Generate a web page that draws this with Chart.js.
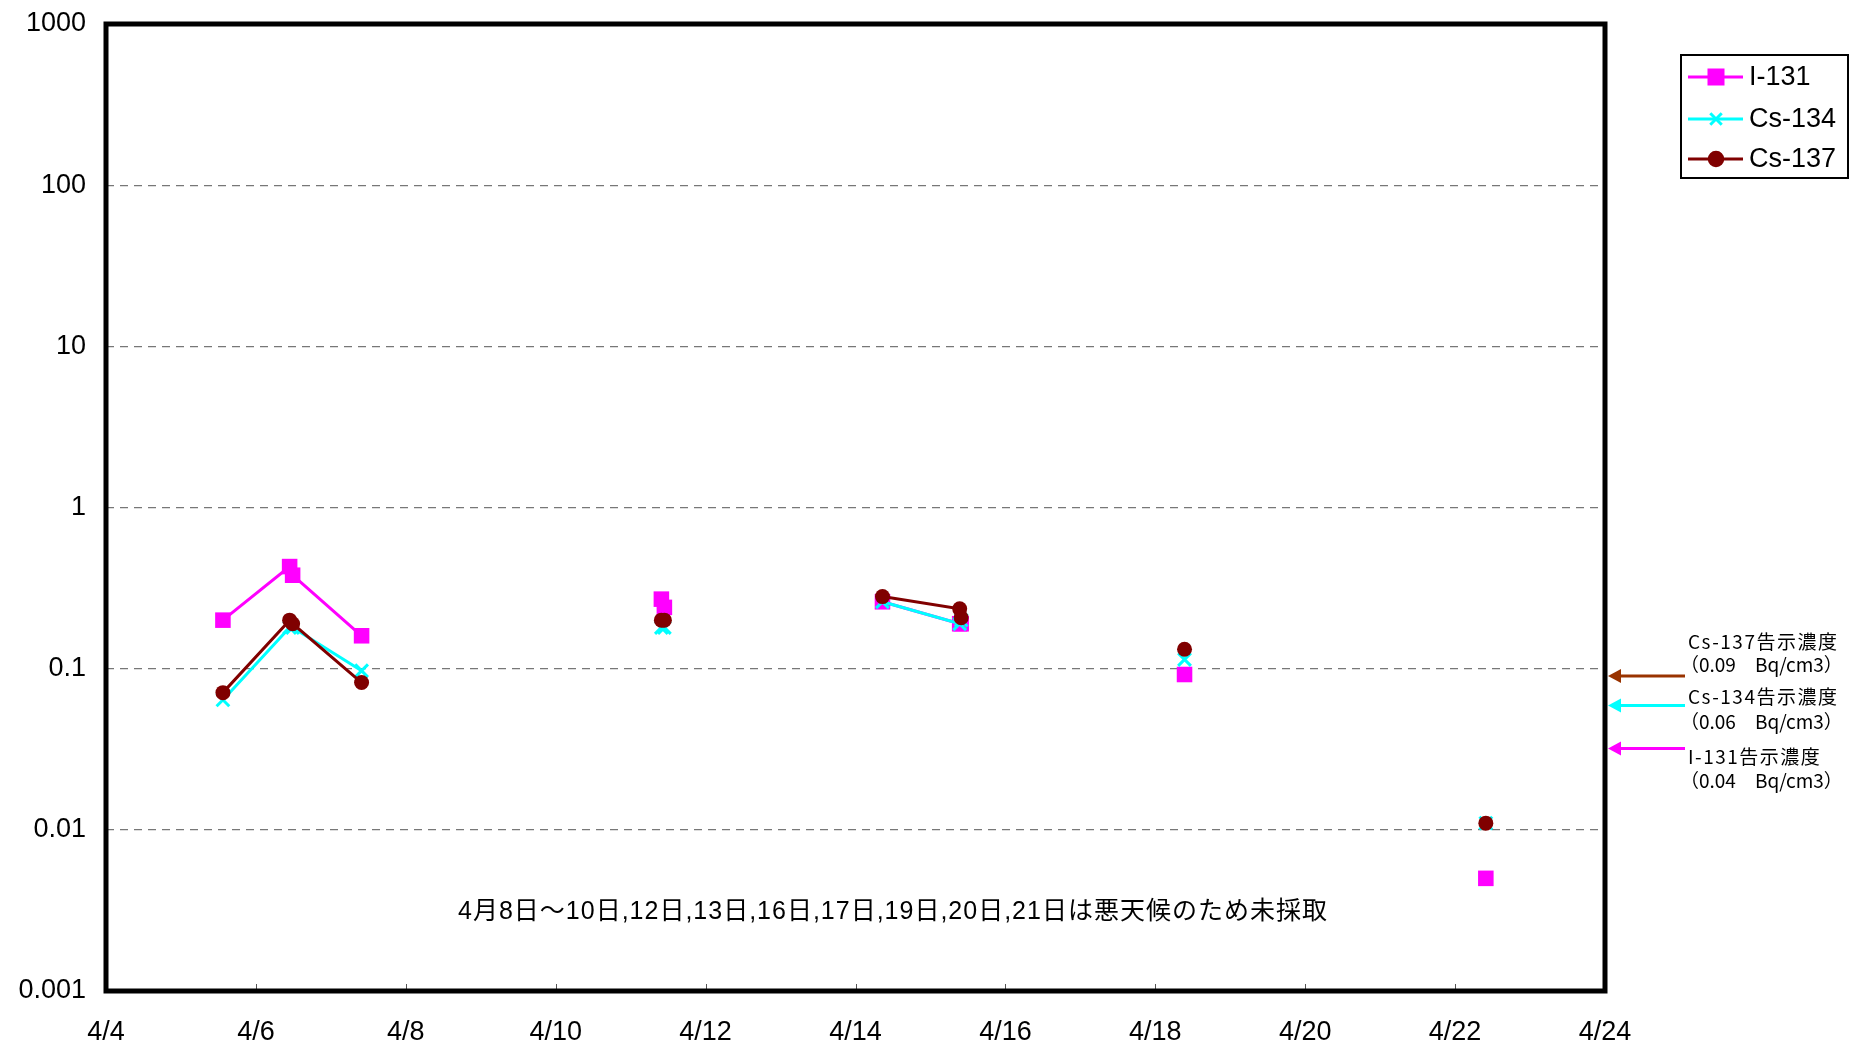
<!DOCTYPE html>
<html lang="ja">
<head>
<meta charset="UTF-8">
<title>I-131 Cs-134 Cs-137</title>
<script src="https://cdn.jsdelivr.net/npm/chart.js@4.4.1/dist/chart.umd.min.js"></script>
<style>
  body { margin: 0; background: #fff; }
  canvas { display: block; }
</style>
</head>
<body>
<canvas id="chart" width="1850" height="1047"></canvas>
<script>
// sampling times (day of April, decimal)
var sampleDays = [5.56, 6.45, 6.49, 7.41, 11.41, 11.45, 14.36, 15.39, 15.41, 18.39, 22.41];
var i131 = [0.20, 0.43, 0.38, 0.16, 0.27, 0.24, 0.26, 0.19, 0.19, 0.092, 0.005];
var cs134 = [0.064, 0.18, 0.18, 0.097, 0.18, 0.18, 0.26, 0.19, 0.20, 0.114, 0.011];
var cs137 = [0.071, 0.20, 0.19, 0.082, 0.20, 0.20, 0.28, 0.235, 0.207, 0.132, 0.011];

var seriesNames = ['I-131', 'Cs-134', 'Cs-137'];
var xTicks = [4, 6, 8, 10, 12, 14, 16, 18, 20, 22, 24];
var yTicks = [0.001, 0.01, 0.1, 1, 10, 100, 1000];

// notification limits (drawn as arrows on the right)
var limitNames = ['Cs-137告示濃度', 'Cs-134告示濃度', 'I-131告示濃度'];
var limitTexts = ['（0.09　Bq/cm3）', '（0.06　Bq/cm3）', '（0.04　Bq/cm3）'];
var limitValues = [0.09, 0.059, 0.032];

var note = '4月8日～10日,12日,13日,16日,17日,19日,20日,21日は悪天候のため未採取';

var FONT = '"Liberation Sans", Arial, "Noto Sans CJK JP", sans-serif';
var JFONT = '"Noto Sans CJK JP", sans-serif';

function pts(vals) {
  return sampleDays.map(function (d, i) { return { x: d, y: vals[i] }; });
}

// no line across days without sampling
function gapColor(color) {
  return function (c) {
    return (c.p1.parsed.x - c.p0.parsed.x > 1.5) ? 'rgba(0,0,0,0)' : color;
  };
}

var styles = [
  { color: '#ff00ff', point: 'rect', radius: 11, width: 3, order: 3 },
  { color: '#00ffff', point: 'crossRot', radius: 9, width: 3, order: 2 },
  { color: '#800000', point: 'circle', radius: 7.5, width: 3, order: 1 }
];
var series = [i131, cs134, cs137];
var limitColors = ['#993300', '#00ffff', '#ff00ff'];
var limitOffsets = [[-34, -11], [-9, 16], [8, 32]];

var decorations = {
  id: 'decorations',
  afterDatasetsDraw: function (chart) {
    var ctx = chart.ctx, a = chart.chartArea;
    var xs = chart.scales.x, ys = chart.scales.y;
    ctx.save();

    // small inward ticks on x axis
    ctx.strokeStyle = '#555';
    ctx.lineWidth = 1;
    xTicks.forEach(function (v) {
      var px = Math.round(xs.getPixelForValue(v)) + 0.5;
      ctx.beginPath();
      ctx.moveTo(px, a.bottom);
      ctx.lineTo(px, a.bottom - 7);
      ctx.stroke();
    });

    // frame
    ctx.strokeStyle = '#000';
    ctx.lineWidth = 5;
    ctx.strokeRect(a.left, a.top, a.right - a.left, a.bottom - a.top);

    // note
    ctx.fillStyle = '#000';
    ctx.font = '25px ' + FONT;
    ctx.letterSpacing = '1px';
    ctx.textAlign = 'center';
    ctx.textBaseline = 'middle';
    ctx.fillText(note, xs.getPixelForValue(14.5), ys.getPixelForValue(0.0031));

    // limit arrows
    limitValues.forEach(function (v, i) {
      var y = ys.getPixelForValue(v);
      var x0 = a.right + 3, x1 = a.right + 80;
      ctx.strokeStyle = limitColors[i];
      ctx.fillStyle = limitColors[i];
      ctx.lineWidth = 3;
      ctx.beginPath();
      ctx.moveTo(x0 + 10, y);
      ctx.lineTo(x1, y);
      ctx.stroke();
      ctx.beginPath();
      ctx.moveTo(x0, y);
      ctx.lineTo(x0 + 13, y - 7);
      ctx.lineTo(x0 + 13, y + 7);
      ctx.closePath();
      ctx.fill();

      ctx.fillStyle = '#000';
      ctx.font = '19px ' + JFONT;
      ctx.textAlign = 'left';
      ctx.textBaseline = 'middle';
      ctx.letterSpacing = '1.5px';
      ctx.fillText(limitNames[i], x1 + 3, y + limitOffsets[i][0]);
      ctx.letterSpacing = '0px';
      ctx.fillText(limitTexts[i], x1 - 5, y + limitOffsets[i][1]);
    });

    // legend
    ctx.strokeStyle = '#000';
    ctx.lineWidth = 2;
    ctx.strokeRect(1681, 55, 167, 123);
    var rows = [77, 119, 159];
    seriesNames.forEach(function (name, i) {
      var s = styles[i], y = rows[i];
      ctx.strokeStyle = s.color;
      ctx.lineWidth = 3;
      ctx.beginPath();
      ctx.moveTo(1688, y);
      ctx.lineTo(1743, y);
      ctx.stroke();
      ctx.fillStyle = s.color;
      Chart.helpers.drawPoint(ctx, {
        pointStyle: s.point, radius: s.radius * 0.9, borderWidth: 3, rotation: 0
      }, 1716, y);
      if (s.point !== 'crossRot') ctx.fill();
      ctx.fillStyle = '#000';
      ctx.font = '27px ' + FONT;
      ctx.textAlign = 'left';
      ctx.fillText(name, 1749, y + 1);
    });
    ctx.restore();
  }
};

new Chart(document.getElementById('chart'), {
  type: 'line',
  data: {
    datasets: series.map(function (vals, i) {
      var s = styles[i];
      return {
        label: seriesNames[i],
        data: pts(vals),
        order: s.order,
        borderColor: s.color,
        backgroundColor: s.color,
        borderWidth: s.width,
        pointStyle: s.point,
        pointRadius: s.radius,
        pointBorderWidth: s.point === 'crossRot' ? 3 : 0,
        pointBorderColor: s.color,
        pointBackgroundColor: s.color,
        tension: 0,
        segment: { borderColor: gapColor(s.color) }
      };
    })
  },
  options: {
    responsive: false,
    animation: false,
    devicePixelRatio: 1,
    layout: { padding: { left: 0, right: 245, top: 24, bottom: 0 } },
    plugins: { legend: { display: false }, tooltip: { enabled: false } },
    scales: {
      x: {
        type: 'linear',
        min: 4,
        max: 24,
        afterBuildTicks: function (s) { s.ticks = xTicks.map(function (v) { return { value: v }; }); },
        afterFit: function (s) { s.height = 56; },
        grid: { display: false },
        border: { display: false },
        ticks: {
          color: '#000',
          font: { family: FONT, size: 27 },
          padding: 17,
          maxRotation: 0,
          callback: function (v) { return '4/' + v; }
        }
      },
      y: {
        type: 'logarithmic',
        min: 0.001,
        max: 1000,
        afterBuildTicks: function (s) { s.ticks = yTicks.map(function (v) { return { value: v }; }); },
        afterFit: function (s) { s.width = 106; s.paddingTop = 0; s.paddingBottom = 0; },
        grid: { color: '#777', lineWidth: 1.2, drawTicks: false },
        border: { display: false, dash: [8, 6] },
        ticks: {
          color: '#000',
          font: { family: FONT, size: 27 },
          padding: 20,
          callback: function (v) { return String(v); }
        }
      }
    }
  },
  plugins: [decorations]
});
</script>
</body>
</html>
